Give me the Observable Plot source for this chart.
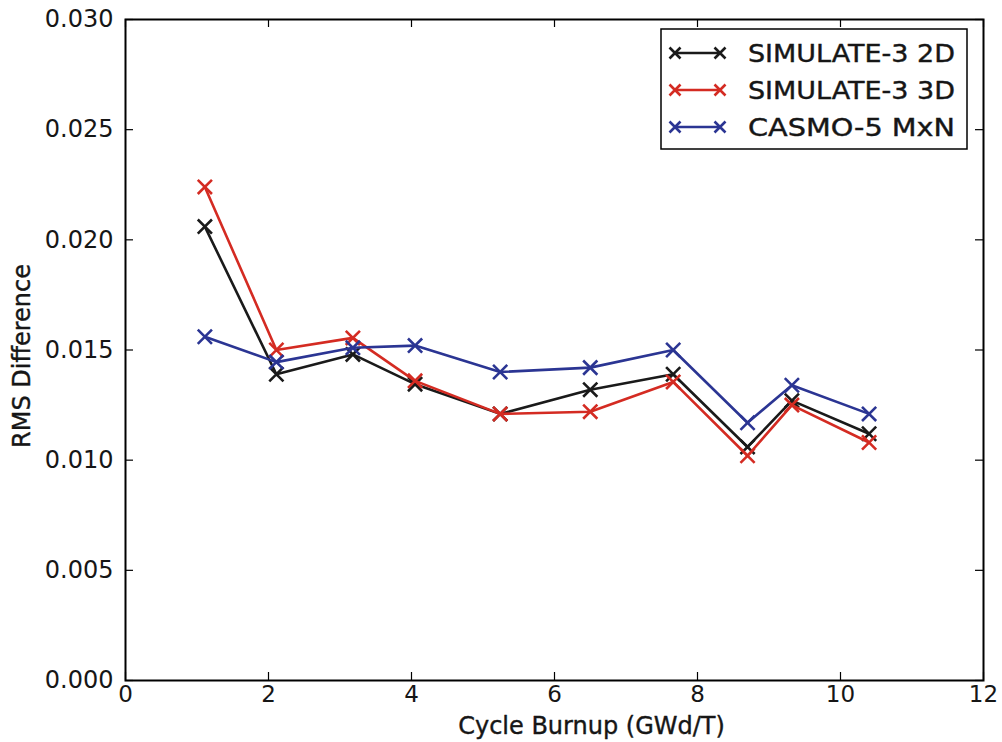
<!DOCTYPE html>
<html>
<head>
<meta charset="utf-8">
<script src="https://cdn.jsdelivr.net/npm/d3@7"></script>
<script src="https://cdn.jsdelivr.net/npm/@observablehq/plot@0.6"></script>
<style>
  html, body { margin: 0; padding: 0; background: #fff; }
  #wrap { position: relative; width: 1002px; height: 742px; font-family: "DejaVu Sans", sans-serif; }
  #legend { position: absolute; left: 660px; top: 28px; }
</style>
</head>
<body>
<div id="wrap"></div>
<script>
// ---- data ----
const burnup = [1.11, 2.11, 3.18, 4.05, 5.24, 6.50, 7.66, 8.70, 9.32, 10.40];
const sim2D  = [0.0206, 0.0139, 0.0148, 0.01345, 0.0121, 0.0132, 0.0139, 0.0106, 0.0127, 0.0112];
const sim3D  = [0.0224, 0.0150, 0.01555, 0.0136, 0.0121, 0.0122, 0.01355, 0.0102, 0.0125, 0.0108];
const casmo  = [0.0156, 0.01445, 0.0151, 0.0152, 0.0140, 0.0142, 0.0150, 0.0117, 0.0134, 0.0121];
const seriesNames = ["SIMULATE-3 2D", "SIMULATE-3 3D", "CASMO-5 MxN"];
const seriesColors = ["#1a1a1a", "#d42b22", "#2b3593"];
const xTicks = [0, 2, 4, 6, 8, 10, 12];
const yTicks = [0, 0.005, 0.010, 0.015, 0.020, 0.025, 0.030];
const xLabel = "Cycle Burnup (GWd/T)";
const yLabel = "RMS Difference";

const W = 1002, H = 742;
const mL = 125, mR = 19, mT = 19, mB = 62;
const plotW = W - mL - mR, plotH = H - mT - mB;
const tickLen = 8;
const textColor = "#161616";

const seriesValues = [sim2D, sim3D, casmo];
const rows = [];
seriesValues.forEach((vals, si) => vals.forEach((v, i) => rows.push({series: seriesNames[si], x: burnup[i], y: v})));

const marks = [];
seriesNames.forEach((name, si) => {
  const data = rows.filter(d => d.series === name);
  marks.push(Plot.line(data, {x: "x", y: "y", stroke: seriesColors[si], strokeWidth: 2.6}));
  marks.push(Plot.dot(data, {x: "x", y: "y", symbol: "times", r: 6.5, stroke: seriesColors[si], strokeWidth: 2.6}));
});

const chart = Plot.plot({
  width: W, height: H,
  marginLeft: mL, marginRight: mR, marginTop: mT, marginBottom: mB,
  style: {fontFamily: "DejaVu Sans, sans-serif", background: "white"},
  x: {domain: [0, 12]},
  y: {domain: [0, 0.03]},
  marks: [
    ...marks,
    // inward ticks on all four sides
    Plot.tickX(xTicks, {x: d => d, insetTop: plotH - tickLen, stroke: "black", strokeWidth: 1.2}),
    Plot.tickX(xTicks, {x: d => d, insetBottom: plotH - tickLen, stroke: "black", strokeWidth: 1.2}),
    Plot.tickY(yTicks, {y: d => d, insetRight: plotW - tickLen, stroke: "black", strokeWidth: 1.2}),
    Plot.tickY(yTicks, {y: d => d, insetLeft: plotW - tickLen, stroke: "black", strokeWidth: 1.2}),
    Plot.frame({stroke: "black", strokeWidth: 2}),
    Plot.axisX({ticks: xTicks, tickSize: 0, tickPadding: 5, tickFormat: d => String(d), fontSize: 23, label: null,
      fill: textColor, stroke: textColor, strokeWidth: 0.4}),
    Plot.axisY({ticks: yTicks, tickSize: 0, tickPadding: 12, tickFormat: d3.format(".3f"), fontSize: 24, label: null,
      fill: textColor, stroke: textColor, strokeWidth: 0.4, style: {letterSpacing: "1.2px"}}),
    Plot.text([xLabel], {text: d => d, frameAnchor: "bottom", textAnchor: "middle", dx: 37, dy: 46, fontSize: 24,
      fill: textColor, stroke: textColor, strokeWidth: 0.4, lineAnchor: "middle"}),
    Plot.text([yLabel], {text: d => d, frameAnchor: "left", textAnchor: "middle", dx: -103, dy: 6, rotate: -90, fontSize: 24,
      fill: textColor, stroke: textColor, strokeWidth: 0.4, lineAnchor: "middle"})
  ]
});

const wrap = document.getElementById("wrap");
wrap.appendChild(chart);

// legend overlay
const lw = 308, lh = 122;
const leg = d3.select(wrap).append("svg").attr("id", "legend").attr("width", lw).attr("height", lh)
  .style("font-family", "DejaVu Sans, sans-serif");
leg.append("rect").attr("x", 1).attr("y", 1).attr("width", lw - 2).attr("height", lh - 2)
  .attr("fill", "white").attr("stroke", "black").attr("stroke-width", 1.5);
seriesNames.forEach((name, i) => {
  const cy = 25 + i * 37;
  const g = leg.append("g").attr("stroke", seriesColors[i]).attr("stroke-width", 2.6).attr("fill", "none");
  g.append("line").attr("x1", 15).attr("x2", 60).attr("y1", cy).attr("y2", cy);
  [15, 60].forEach(cx => {
    g.append("path").attr("d", `M${cx-5.5},${cy-5.5}L${cx+5.5},${cy+5.5}M${cx-5.5},${cy+5.5}L${cx+5.5},${cy-5.5}`);
  });
  leg.append("text").attr("x", 88).attr("y", cy).attr("dy", "0.36em")
    .attr("font-size", 24).attr("fill", textColor).attr("stroke", textColor).attr("stroke-width", 0.4)
    .attr("textLength", 207).attr("lengthAdjust", "spacingAndGlyphs")
    .text(name);
});
</script>
</body>
</html>
